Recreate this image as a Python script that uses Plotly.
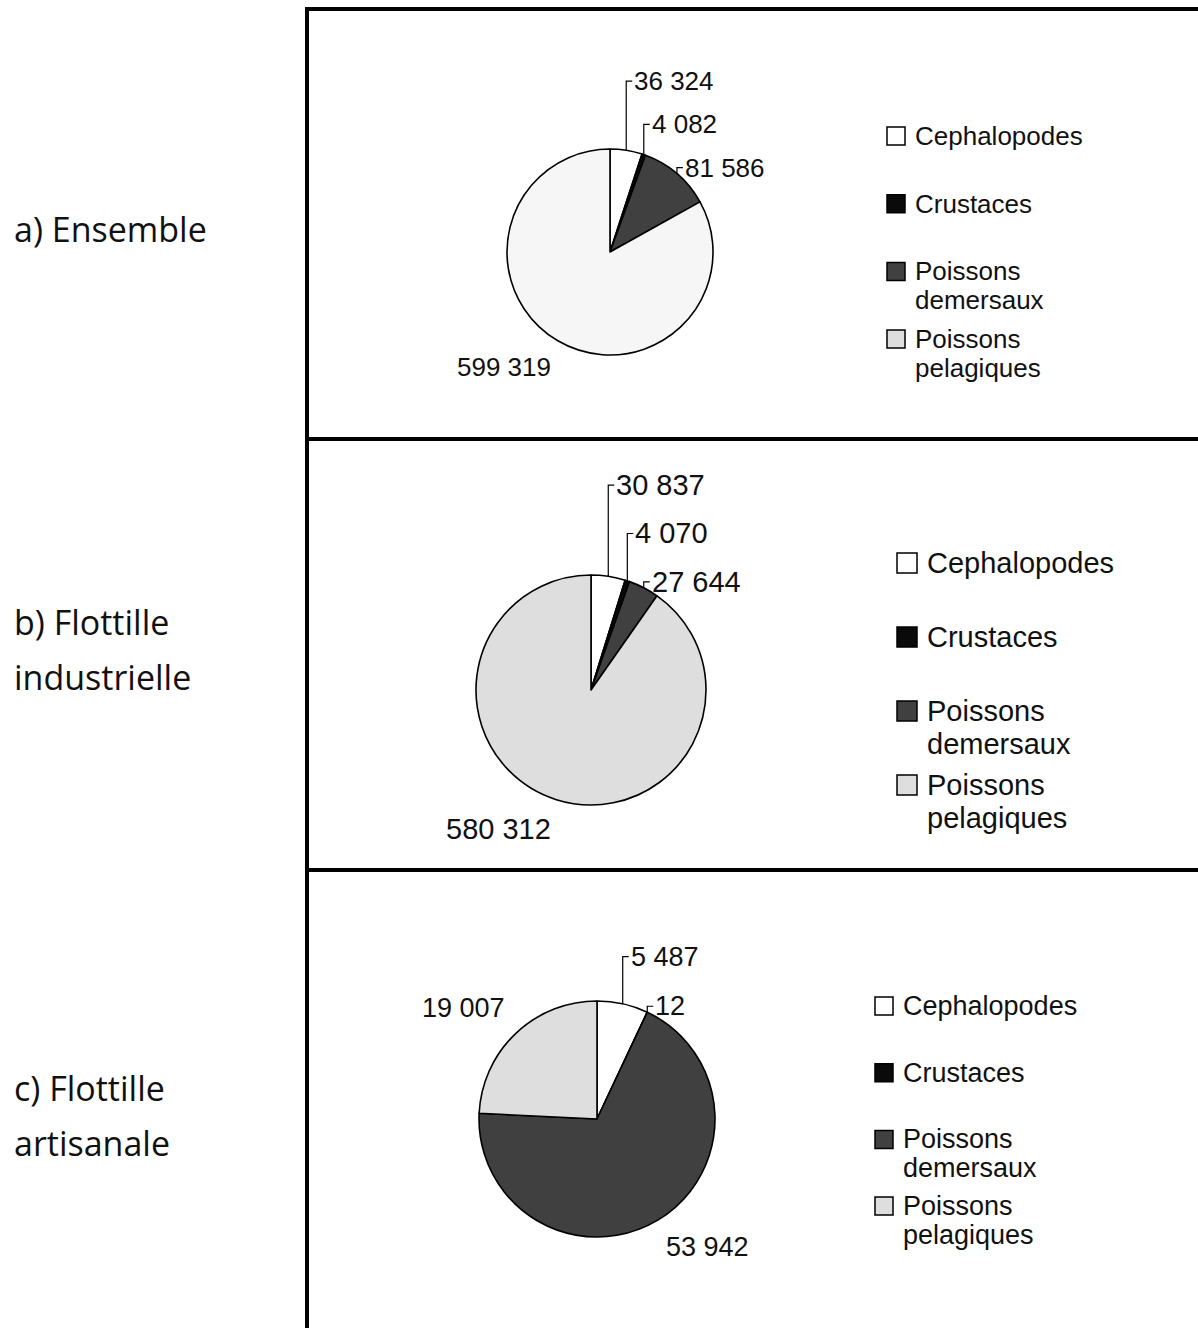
import math
import plotly.graph_objects as go

# ---------------- data ----------------
categories = ["Cephalopodes", "Crustaces", "Poissons demersaux", "Poissons pelagiques"]
legend_lines = [["Cephalopodes"], ["Crustaces"], ["Poissons", "demersaux"], ["Poissons", "pelagiques"]]
ensemble = [36324, 4082, 81586, 599319]
industrielle = [30837, 4070, 27644, 580312]
artisanale = [5487, 12, 53942, 19007]
panel_titles = [["a) Ensemble"], ["b) Flottille", "industrielle"], ["c) Flottille", "artisanale"]]

# ---------------- style / layout ----------------
W, H = 1198, 1328
colors_std = ["#ffffff", "#0a0a0a", "#404040", "#dedede"]
colors_a = ["#ffffff", "#0a0a0a", "#404040", "#f6f6f6"]
legend_colors = ["#ffffff", "#0a0a0a", "#404040", "#dedede"]

panels = [
    dict(vals=ensemble, cx=610, cy=252, r=103, fs=26, colors=colors_a,
         sym_x=887, sym=18, txt_x=913, leg_y0=136, leg_step=67.7, line_gap=29,
         title_y=[229]),
    dict(vals=industrielle, cx=591, cy=690, r=115, fs=29, colors=colors_std,
         sym_x=897, sym=20, txt_x=925, leg_y0=563, leg_step=74, line_gap=33,
         title_y=[622, 677]),
    dict(vals=artisanale, cx=597, cy=1119, r=118, fs=27, colors=colors_std,
         sym_x=875, sym=18, txt_x=901, leg_y0=1006, leg_step=66.7, line_gap=29,
         title_y=[1088, 1143]),
]


def px(x):
    return x / W


def py(y):
    return 1 - y / H


def fmt(v):
    return f"{v:,}".replace(",", " ")


FONT = "Liberation Sans, Arial, sans-serif"
TXT = "#111111"
fig = go.Figure()
shapes = []
annotations = []

for i, p in enumerate(panels):
    vals = p["vals"]
    total = sum(vals)
    cx, cy, r = p["cx"], p["cy"], p["r"]
    fig.add_trace(go.Pie(
        labels=categories, values=vals, sort=False, direction="clockwise",
        rotation=0, textinfo="none", hole=0,
        marker=dict(colors=p["colors"], line=dict(color="#000000", width=1.6)),
        domain=dict(x=[px(cx - r), px(cx + r)], y=[py(cy + r), py(cy - r)]),
        showlegend=False,
        hovertemplate="%{label}: %{value}<extra></extra>",
    ))

    # slice geometry -> value labels
    cum = 0.0
    mids = []
    for v in vals:
        start = cum / total * 360
        cum += v
        end = cum / total * 360
        mids.append((start + end) / 2)

    small = [k for k, v in enumerate(vals) if v / total < 0.15]
    gap = 0.42 * r
    next_y = None
    label_pos = {}
    for k in reversed(small):
        th = math.radians(mids[k])
        ex = cx + r * math.sin(th)
        ey = cy - r * math.cos(th)
        ly = ey - 6 if next_y is None else min(ey - 6, next_y - gap)
        next_y = ly
        label_pos[k] = (ex, ey, ly)
    for k in small:
        ex, ey, ly = label_pos[k]
        shapes.append(dict(type="path", xref="paper", yref="paper",
                           path=f"M {px(ex)} {py(ey)} L {px(ex)} {py(ly)} L {px(ex + 6)} {py(ly)}",
                           line=dict(color="#000000", width=1.2)))
        annotations.append(dict(x=px(ex + 6), y=py(ly), xref="paper", yref="paper",
                                text=fmt(vals[k]), showarrow=False, xanchor="left", yanchor="middle",
                                font=dict(family=FONT, size=p["fs"], color=TXT)))
    for k, v in enumerate(vals):
        if k in small:
            continue
        th = math.radians(mids[k])
        sx, sy = math.sin(th), -math.cos(th)
        lx = cx + 1.1 * r * sx
        ly = cy + 1.1 * r * sy
        annotations.append(dict(x=px(lx), y=py(ly), xref="paper", yref="paper",
                                text=fmt(v), showarrow=False,
                                xanchor="right" if sx < 0 else "left",
                                yanchor="top" if sy > 0 else "bottom",
                                font=dict(family=FONT, size=p["fs"], color=TXT)))

    # legend (one per panel)
    for k, lines in enumerate(legend_lines):
        y0 = p["leg_y0"] + k * p["leg_step"]
        s = p["sym"]
        shapes.append(dict(type="rect", xref="paper", yref="paper",
                           x0=px(p["sym_x"]), x1=px(p["sym_x"] + s),
                           y0=py(y0 - s / 2), y1=py(y0 + s / 2),
                           fillcolor=legend_colors[k], line=dict(color="#000000", width=1.5)))
        for j, t in enumerate(lines):
            annotations.append(dict(x=px(p["txt_x"]), y=py(y0 + j * p["line_gap"]),
                                    xref="paper", yref="paper", text=t, showarrow=False,
                                    xanchor="left", yanchor="middle",
                                    font=dict(family=FONT, size=p["fs"], color=TXT)))

    # panel titles
    for t, ty in zip(panel_titles[i], p["title_y"]):
        annotations.append(dict(x=px(12), y=py(ty), xref="paper", yref="paper", text=t,
                                showarrow=False, xanchor="left", yanchor="middle",
                                font=dict(family="Open Sans, sans-serif", size=34, color="#111111")))

# frame lines
LW = 4
frame = [
    (307, 9, 307, H + 10),
    (305, 9, W + 10, 9),
    (305, 439, W + 10, 439),
    (305, 870, W + 10, 870),
]
for x0, y0, x1, y1 in frame:
    shapes.append(dict(type="line", xref="paper", yref="paper",
                       x0=px(x0), y0=py(y0), x1=px(x1), y1=py(y1),
                       line=dict(color="#000000", width=LW)))

fig.update_layout(
    width=W, height=H,
    margin=dict(l=0, r=0, t=0, b=0),
    paper_bgcolor="#ffffff", plot_bgcolor="#ffffff",
    shapes=shapes, annotations=annotations,
    showlegend=False,
)
fig.write_html(
    "out.html",
    config={"displayModeBar": False},
    post_script="document.body.style.margin='0';document.body.style.overflow='hidden';",
)
